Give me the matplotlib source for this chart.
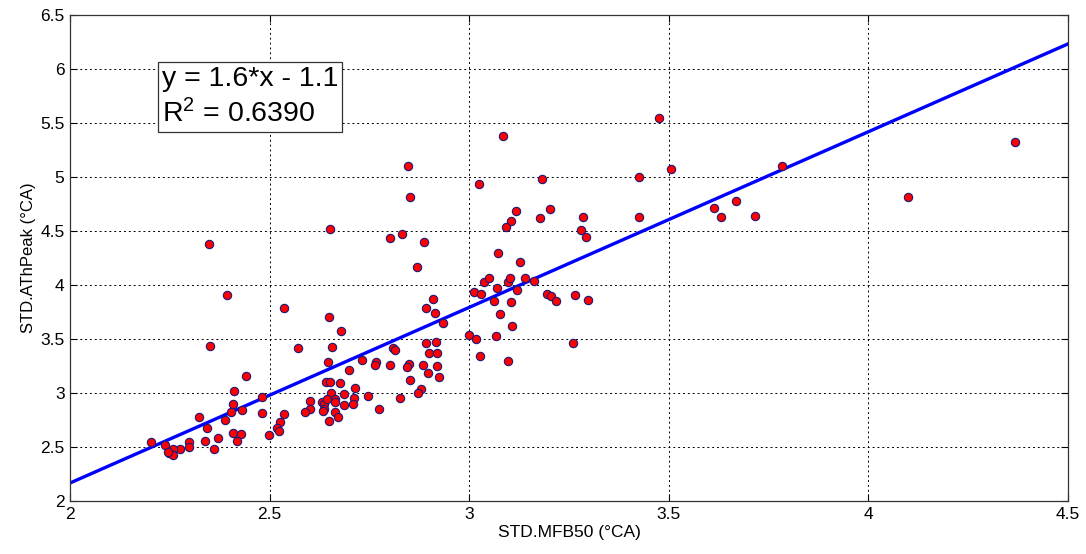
import numpy as np
import matplotlib
matplotlib.use("Agg")
import matplotlib.pyplot as plt

# STD.MFB50 (x) vs STD.AThPeak (y)
mfb50_std = [
    3.476, 3.085, 2.847, 3.505, 3.182, 3.424, 3.025, 2.851, 4.368, 3.783,
    3.612, 3.669, 3.631, 3.716, 4.098, 3.118, 3.203, 3.104, 3.093, 3.177,
    3.285, 3.424, 3.281, 3.293, 2.832, 2.886, 2.802, 2.348, 2.652, 3.071,
    3.128, 2.870, 3.038, 3.049, 3.096, 3.102, 3.139, 3.163, 3.069, 3.119,
    3.012, 3.029, 3.195, 3.206, 3.217, 3.266, 3.297, 2.910, 3.062, 3.105,
    2.891, 2.915, 3.076, 2.934, 3.108, 2.393, 2.535, 2.648, 2.678, 2.351,
    2.570, 2.655, 2.808, 2.815, 3.000, 3.018, 3.068, 3.261, 2.891, 2.917,
    2.900, 2.920, 3.026, 3.098, 2.647, 2.731, 2.766, 2.764, 2.801, 2.850,
    2.845, 2.884, 2.918, 2.440, 2.700, 2.897, 2.925, 2.852, 2.642, 2.651,
    2.677, 2.715, 2.410, 2.653, 2.686, 2.747, 2.826, 2.880, 2.871, 2.480,
    2.600, 2.630, 2.635, 2.644, 2.664, 2.663, 2.712, 2.710, 2.685, 2.408,
    2.431, 2.404, 2.600, 2.589, 2.636, 2.633, 2.773, 2.663, 2.670, 2.649,
    2.323, 2.388, 2.481, 2.537, 2.526, 2.519, 2.523, 2.342, 2.408, 2.427,
    2.498, 2.370, 2.338, 2.417, 2.299, 2.299, 2.202, 2.237, 2.276, 2.361,
    2.258, 2.248, 2.259, 2.245,
]
athpeak_std = [
    5.545, 5.381, 5.100, 5.072, 4.986, 5.005, 4.933, 4.813, 5.327, 5.106,
    4.717, 4.779, 4.634, 4.640, 4.817, 4.689, 4.708, 4.593, 4.541, 4.618,
    4.630, 4.630, 4.506, 4.444, 4.472, 4.402, 4.439, 4.383, 4.516, 4.296,
    4.216, 4.166, 4.027, 4.064, 4.033, 4.064, 4.064, 4.038, 3.973, 3.959,
    3.933, 3.920, 3.922, 3.899, 3.853, 3.913, 3.862, 3.871, 3.857, 3.843,
    3.789, 3.746, 3.730, 3.647, 3.625, 3.913, 3.789, 3.702, 3.579, 3.442,
    3.423, 3.432, 3.418, 3.398, 3.539, 3.502, 3.528, 3.465, 3.465, 3.474,
    3.375, 3.377, 3.345, 3.301, 3.291, 3.310, 3.285, 3.263, 3.265, 3.270,
    3.245, 3.259, 3.251, 3.161, 3.212, 3.186, 3.154, 3.124, 3.108, 3.108,
    3.099, 3.045, 3.025, 3.004, 2.994, 2.978, 2.960, 3.036, 3.006, 2.964,
    2.925, 2.917, 2.897, 2.951, 2.945, 2.916, 2.957, 2.897, 2.891, 2.902,
    2.846, 2.830, 2.855, 2.830, 2.855, 2.840, 2.855, 2.827, 2.776, 2.741,
    2.778, 2.753, 2.821, 2.809, 2.735, 2.682, 2.654, 2.679, 2.637, 2.621,
    2.611, 2.586, 2.557, 2.558, 2.551, 2.505, 2.547, 2.526, 2.486, 2.486,
    2.484, 2.450, 2.427, 2.456,
]

# linear fit as drawn in the reference
fit_slope = 1.625
fit_intercept = -1.08
fit_label = "y = 1.6*x - 1.1"
r2_label = "R$^2$ = 0.6390"

x_ticks = [2, 2.5, 3, 3.5, 4, 4.5]
y_ticks = [2, 2.5, 3, 3.5, 4, 4.5, 5, 5.5, 6, 6.5]

plt.rcParams["font.family"] = ["Liberation Sans", "DejaVu Sans"]
plt.rcParams["mathtext.fontset"] = "custom"
plt.rcParams["mathtext.rm"] = "Liberation Sans"
plt.rcParams["mathtext.it"] = "Liberation Sans"

fig = plt.figure(figsize=(10.86, 5.54), dpi=100)
ax = fig.add_axes([0.0645, 0.095, 0.919, 0.878])

fx = np.array([x_ticks[0], x_ticks[-1]])
ax.plot(fx, fit_slope * fx + fit_intercept, "-", color="#0000ff", lw=2.4, zorder=2)
ax.plot(mfb50_std, athpeak_std, "o", ms=6, mfc="#ff0000", mec="#1a1a7a",
        mew=0.8, linestyle="none", zorder=3)

ax.set_xlim(x_ticks[0], x_ticks[-1])
ax.set_ylim(y_ticks[0], y_ticks[-1])
ax.set_xticks(x_ticks)
ax.set_yticks(y_ticks)
ax.set_xticklabels([f"{v:g}" for v in x_ticks])
ax.set_yticklabels([f"{v:g}" for v in y_ticks])
ax.tick_params(direction="in", length=5, labelsize=12.5, top=True, right=True, pad=4)
ax.grid(True, color="k", linestyle=(0, (2, 3)), lw=0.7)
for s in ax.spines.values():
    s.set_linewidth(0.9)
    s.set_color("#333333")

ax.set_xlabel("STD.MFB50 (°CA)", fontsize=12.5, labelpad=2)
ax.set_ylabel("STD.AThPeak (°CA)", fontsize=12, labelpad=3)

ax.text(2.23, 6.03, fit_label + "\n" + r2_label, fontsize=20.5, va="top", ha="left",
        linespacing=1.3, zorder=5,
        bbox=dict(boxstyle="square,pad=0.14", fc="white", ec="#333333", lw=0.9))

fig.savefig("out.png", dpi=100)
